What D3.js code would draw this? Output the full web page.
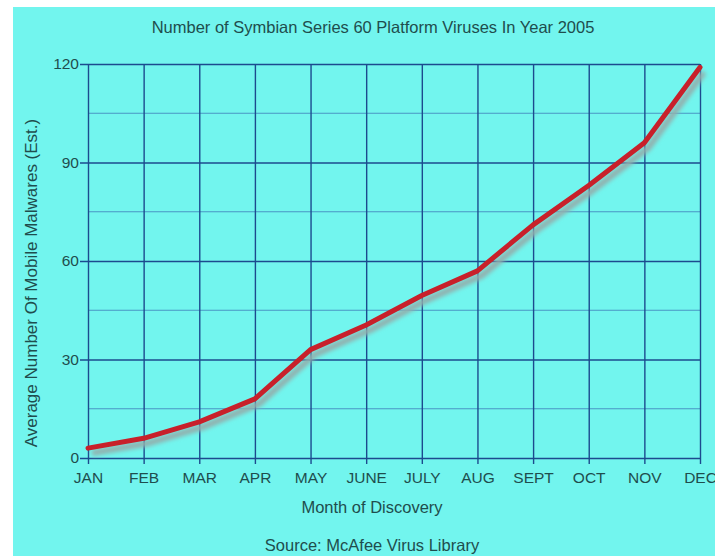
<!DOCTYPE html>
<html>
<head>
<meta charset="utf-8">
<script src="https://cdn.jsdelivr.net/npm/d3@7"></script>
<style>
  body { margin: 0; background: #fff; }
  svg { display: block; font-family: "Liberation Sans", Arial, sans-serif; }
</style>
</head>
<body>
<svg id="chart" width="715" height="556"></svg>
<script>
// data
var months = ["JAN", "FEB", "MAR", "APR", "MAY", "JUNE", "JULY", "AUG", "SEPT", "OCT", "NOV", "DEC"];
var viruses = [3, 6, 11, 18, 33, 40.5, 49.5, 57, 71, 83, 96, 119];
var yTicks = [0, 30, 60, 90, 120];
var yMinor = [15, 45, 75, 105];

var svg = d3.select("svg#chart"),
    margin = { top: 64, right: 15, bottom: 98, left: 88 },
    width = 700 - margin.left,
    height = 458 - margin.top;

var textColor = "#1f4d4d";

// cyan panel
svg.append("rect")
    .attr("x", 13).attr("y", 7)
    .attr("width", 715 - 13).attr("height", 556 - 7)
    .attr("fill", "#72f5ee");

var defs = svg.append("defs");
defs.append("filter").attr("id", "blur")
    .attr("x", "-10%").attr("y", "-10%").attr("width", "120%").attr("height", "120%")
    .append("feGaussianBlur").attr("stdDeviation", 2.2);

var x = d3.scalePoint().domain(months).range([0, width]);
var y = d3.scaleLinear().domain([0, 120]).range([height, 0]);

var g = svg.append("g")
    .attr("transform", "translate(" + margin.left + "," + margin.top + ")");

// minor horizontal grid
g.selectAll(".minor")
    .data(yMinor)
    .enter().append("line")
    .attr("class", "minor")
    .attr("x1", 0).attr("x2", width)
    .attr("y1", function (d) { return y(d); })
    .attr("y2", function (d) { return y(d); })
    .attr("stroke", "#4a95c4")
    .attr("stroke-width", 1);

// major horizontal grid + left ticks
g.append("g")
    .attr("class", "axis axis--y")
    .call(d3.axisLeft(y).tickValues(yTicks).tickSize(-width))
    .call(function (a) {
        a.select(".domain").remove();
        a.selectAll(".tick line").attr("x1", -8).attr("stroke", "#1c4a8e").attr("stroke-width", 1.4);
        a.selectAll(".tick text")
            .attr("x", -9)
            .attr("fill", textColor)
            .style("font-size", "15.5px");
    });

// vertical grid + bottom ticks
g.append("g")
    .attr("class", "axis axis--x")
    .attr("transform", "translate(0," + height + ")")
    .call(d3.axisBottom(x).tickSize(-height))
    .call(function (a) {
        a.select(".domain").remove();
        a.selectAll(".tick line").attr("y1", 6).attr("stroke", "#1c4a8e").attr("stroke-width", 1.4);
        a.selectAll(".tick text")
            .attr("fill", textColor)
            .attr("y", 25)
            .attr("dy", 0)
            .style("font-size", "15.5px");
    });

var line = d3.line()
    .x(function (d, i) { return x(months[i]); })
    .y(function (d) { return y(d); });

// soft shadow under the line
g.append("path")
    .datum(viruses)
    .attr("d", line)
    .attr("transform", "translate(4,5)")
    .attr("fill", "none")
    .attr("stroke", "#93aeac")
    .attr("stroke-width", 6)
    .attr("stroke-linejoin", "round")
    .attr("filter", "url(#blur)");

g.append("path")
    .datum(viruses)
    .attr("d", line)
    .attr("fill", "none")
    .attr("stroke", "#c8202a")
    .attr("stroke-width", 5)
    .attr("stroke-linejoin", "round")
    .attr("stroke-linecap", "round");

// texts
svg.append("text")
    .attr("x", 373).attr("y", 33)
    .attr("text-anchor", "middle")
    .attr("fill", textColor)
    .style("font-size", "16.5px")
    .text("Number of Symbian Series 60 Platform Viruses In Year 2005");

svg.append("text")
    .attr("transform", "translate(37,283) rotate(-90)")
    .attr("text-anchor", "middle")
    .attr("fill", textColor)
    .style("font-size", "17px")
    .text("Average Number Of Mobile Malwares (Est.)");

svg.append("text")
    .attr("x", 372).attr("y", 513)
    .attr("text-anchor", "middle")
    .attr("fill", textColor)
    .style("font-size", "16.5px")
    .text("Month of Discovery");

svg.append("text")
    .attr("x", 372).attr("y", 551)
    .attr("text-anchor", "middle")
    .attr("fill", textColor)
    .style("font-size", "16.5px")
    .text("Source: McAfee Virus Library");
</script>
</body>
</html>
